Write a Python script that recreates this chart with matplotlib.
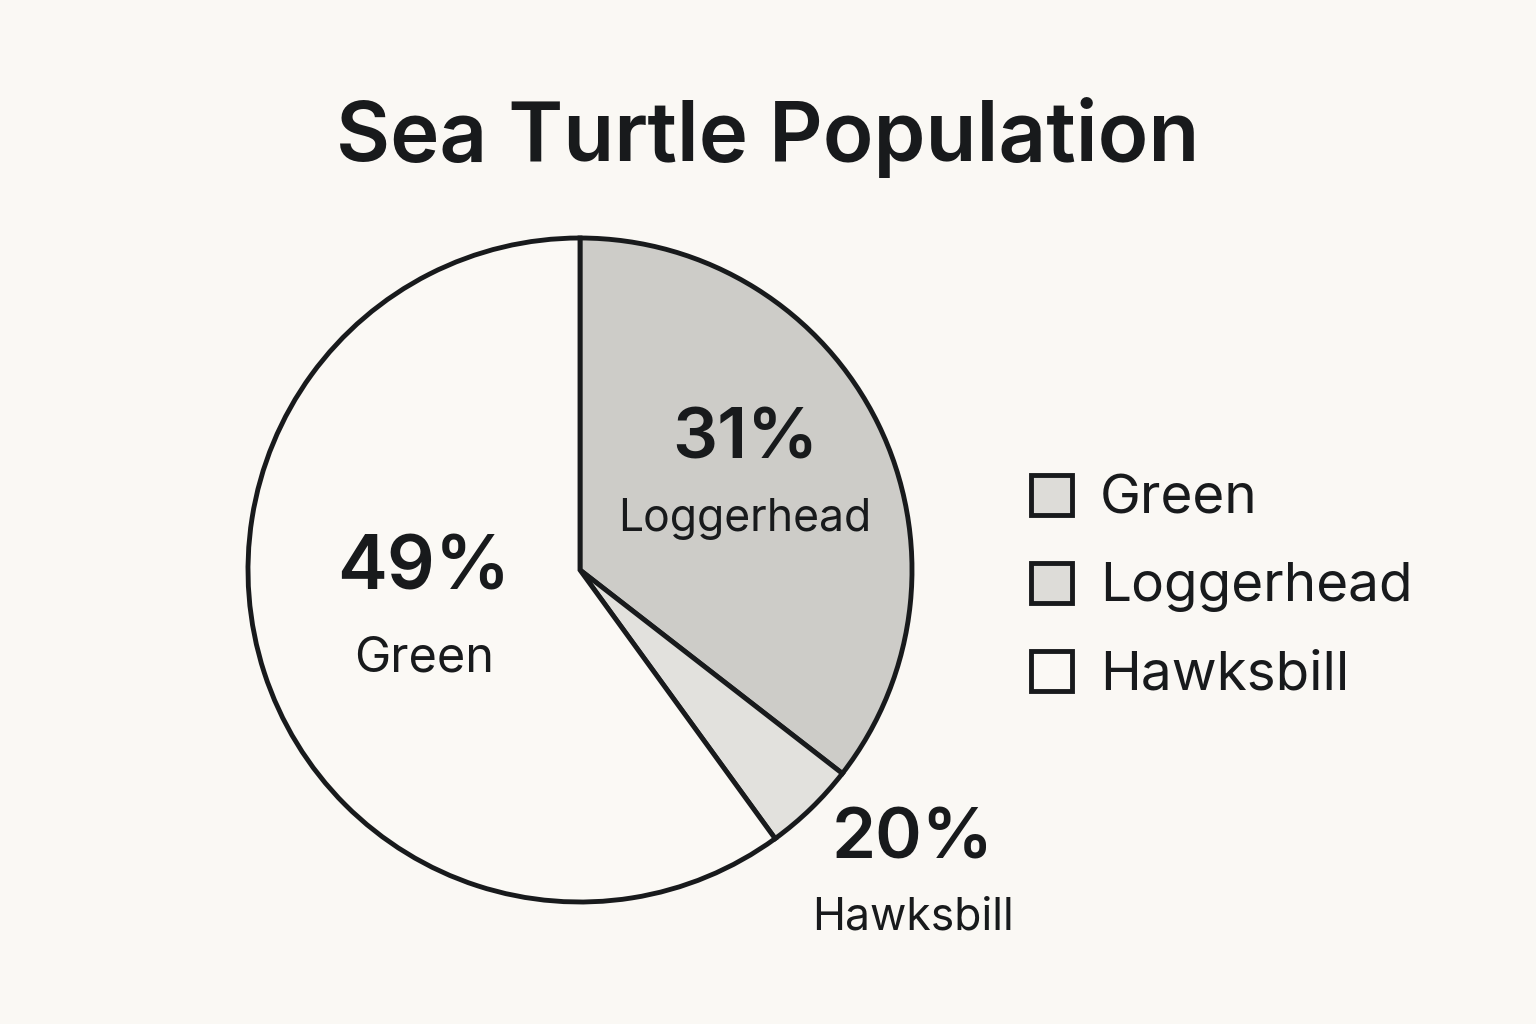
import matplotlib.pyplot as plt
from matplotlib.patches import Rectangle

# data
species = ['Loggerhead', 'Hawksbill', 'Green']
percent_labels = [31, 20, 49]          # printed percentages
wedge_share = [35.5, 4.5, 60.0]        # wedge sizes as drawn
wedge_colors = ['#cdccc8', '#e2e1dd', '#fbf9f5']

legend_names = ['Green', 'Loggerhead', 'Hawksbill']
legend_colors = ['#dddcd8', '#dddcd8', '#fbf9f5']

bg = '#faf8f4'
ink = '#181a1c'
plt.rcParams['font.family'] = ['Inter', 'DejaVu Sans']

W, H = 1536, 1024
fig = plt.figure(figsize=(W / 100, H / 100), dpi=100, facecolor=bg)

# pie axes: centre (580, 570) px, radius 332 px
cx, cy, r = 580, 570, 332
ax = fig.add_axes([(cx - r) / W, (H - cy - r) / H, 2 * r / W, 2 * r / H])
ax.set_facecolor(bg)
ax.pie(wedge_share, colors=wedge_colors, startangle=90, counterclock=False,
       radius=1.0, wedgeprops=dict(edgecolor=ink, linewidth=3.5, joinstyle='miter'))
ax.set_xlim(-1.0, 1.0)
ax.set_ylim(-1.0, 1.0)
ax.set_aspect('equal')
ax.axis('off')

# label positions (pixels): x, percent y, name y
label_pos = {'Loggerhead': (745, 440, 519), 'Hawksbill': (913, 840, 917),
             'Green': (424, 570, 659)}
label_sizes = {'Loggerhead': (51, 32), 'Hawksbill': (51, 32), 'Green': (54, 35)}
for name, pct in zip(species, percent_labels):
    x, y, y2 = label_pos[name]
    big, small = label_sizes[name]
    fig.text(x / W, 1 - y / H, f'{pct}%', ha='center', va='center',
             fontsize=big, fontweight='semibold', color=ink)
    fig.text(x / W, 1 - y2 / H, name, ha='center', va='center',
             fontsize=small, color=ink)

fig.text(768 / W, 1 - 137 / H, 'Sea Turtle Population', ha='center', va='center',
         fontsize=60, fontweight='semibold', color=ink)

# legend
for i, (name, col) in enumerate(zip(legend_names, legend_colors)):
    y = 495 + i * 88
    fig.patches.append(Rectangle((1031 / W, 1 - (y + 20) / H), 41 / W, 40 / H,
                                 transform=fig.transFigure, facecolor=col,
                                 edgecolor=ink, linewidth=3.5))
    fig.text(1100 / W, 1 - (y + 4) / H, name, ha='left', va='center',
             fontsize=39.5, color=ink)

fig.savefig('out.png', dpi=100, facecolor=bg)
